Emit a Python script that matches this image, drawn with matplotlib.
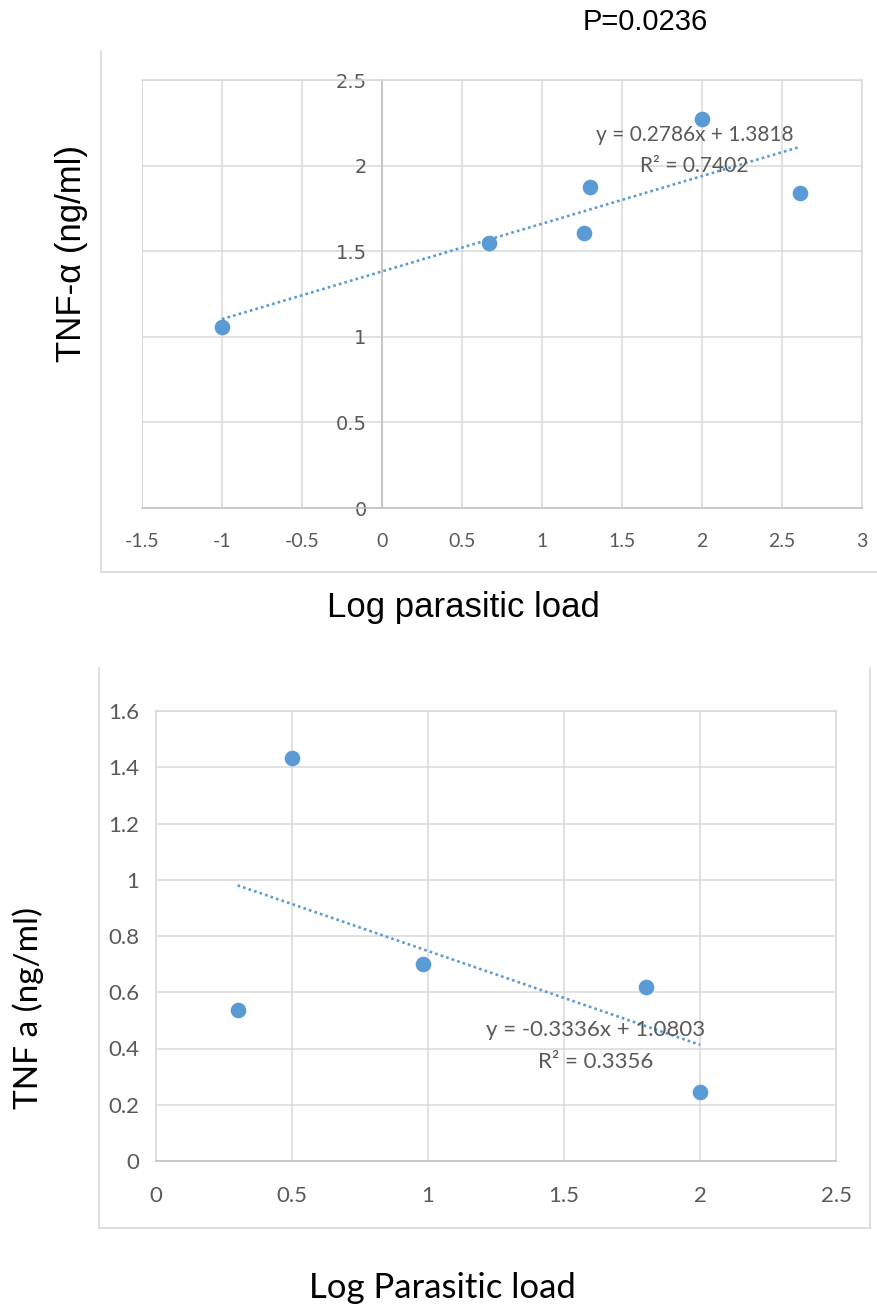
import numpy as np
import matplotlib.pyplot as plt
from matplotlib.lines import Line2D

# Datos - panel superior
x_top = np.array([-1.0, 0.67, 1.26, 1.30, 2.0, 2.61])
y_top = np.array([1.057, 1.55, 1.606, 1.875, 2.27, 1.84])
slope_top, inter_top, r2_top = 0.2786, 1.3818, 0.7402

# Datos - panel inferior
x_bot = np.array([0.30, 0.50, 0.98, 1.80, 2.0])
y_bot = np.array([0.537, 1.433, 0.70, 0.62, 0.246])
slope_bot, inter_bot, r2_bot = -0.3336, 1.0803, 0.3356

W, H = 877, 1308
blue = '#5B9BD5'
grid_c = '#D9D9D9'
tick_c = '#595959'
narrow = ['Liberation Sans Narrow', 'Lato', 'DejaVu Sans']
arial = ['Liberation Sans', 'DejaVu Sans']
calibri = ['Lato', 'DejaVu Sans']

fig = plt.figure(figsize=(W / 100, H / 100), dpi=100)


def fx(px):
    return px / W


def fy(py):
    return 1 - py / H


def frame(x0, x1, y0, y1, right=True):
    kw = dict(transform=fig.transFigure, color=grid_c, lw=1.2)
    fig.add_artist(Line2D([fx(x0), fx(x0)], [fy(y0), fy(y1)], **kw))
    fig.add_artist(Line2D([fx(x0), fx(x1)], [fy(y1), fy(y1)], **kw))
    if right:
        fig.add_artist(Line2D([fx(x1), fx(x1)], [fy(y0), fy(y1)], **kw))


def style_axes(ax, xlim, ylim, xstep, ystep, xpad, ypad, fs):
    ax.set_xlim(*xlim)
    ax.set_ylim(*ylim)
    ax.set_xticks(np.arange(xlim[0], xlim[1] + 1e-9, xstep))
    ax.set_yticks(np.arange(ylim[0], ylim[1] + 1e-9, ystep))
    ax.grid(True, color=grid_c, lw=1.1)
    ax.set_axisbelow(True)
    for s in ax.spines.values():
        s.set_color(grid_c)
        s.set_linewidth(1.1)
    ax.spines['bottom'].set_color('#BFBFBF')
    ax.tick_params(axis='x', length=0, pad=xpad, labelcolor=tick_c, labelsize=fs)
    ax.tick_params(axis='y', length=0, pad=ypad, labelcolor=tick_c, labelsize=fs)
    for lab in ax.get_xticklabels() + ax.get_yticklabels():
        lab.set_family(narrow)


def fmt(v):
    return ('%g' % round(v, 2))


# Panel superior
ax1 = fig.add_axes([fx(142), fy(508), fx(862) - fx(142), fy(80) - fy(508)])
style_axes(ax1, (-1.5, 3), (0, 2.5), 0.5, 0.5, 18, 11, 14)
ax1.spines['left'].set_position(('data', 0))
ax1.spines['left'].set_color('#BFBFBF')
ax1.axvline(-1.5, color=grid_c, lw=1.1, zorder=0)
ax1.set_xticklabels([fmt(v) for v in ax1.get_xticks()])
ax1.set_yticklabels([fmt(v) for v in ax1.get_yticks()])
ax1.scatter(x_top, y_top, s=105, color=blue, zorder=3)
xt = np.array([x_top.min(), x_top.max()])
ax1.plot(xt, slope_top * xt + inter_top, color=blue, lw=1.9,
         linestyle=(0, (1, 1.2)), zorder=2)

frame(101, 880, 51, 572, right=False)
fig.text(fx(645), fy(22), 'P=0.0236', family=arial, fontsize=21,
         ha='center', va='center')
fig.text(fx(72), fy(254), 'TNF-α (ng/ml)', family=arial, fontsize=25,
         rotation=90, ha='center', va='center')
fig.text(fx(463), fy(607), 'Log parasitic load', family=arial, fontsize=25,
         ha='center', va='center')
fig.text(fx(695), fy(135), 'y = %.4fx + %.4f' % (slope_top, inter_top),
         family=narrow, fontsize=15, color=tick_c, ha='center', va='center')
fig.text(fx(694), fy(166), 'R² = %.4f' % r2_top,
         family=narrow, fontsize=15, color=tick_c, ha='center', va='center')

# Panel inferior
ax2 = fig.add_axes([fx(156), fy(1161), fx(836) - fx(156), fy(711) - fy(1161)])
style_axes(ax2, (0, 2.5), (0, 1.6), 0.5, 0.2, 18, 12, 16)
ax2.set_xticklabels([fmt(v) for v in ax2.get_xticks()])
ax2.set_yticklabels([fmt(v) for v in ax2.get_yticks()])
ax2.scatter(x_bot, y_bot, s=105, color=blue, zorder=3)
xb = np.array([x_bot.min(), x_bot.max()])
ax2.plot(xb, slope_bot * xb + inter_bot, color=blue, lw=1.9,
         linestyle=(0, (1, 1.2)), zorder=2)

frame(99, 870, 668, 1228)
fig.text(fx(28), fy(1008), 'TNF a (ng/ml)', family=calibri, fontsize=24,
         rotation=90, ha='center', va='center')
fig.text(fx(442), fy(1288), 'Log Parasitic load', family=calibri, fontsize=25,
         ha='center', va='center')
fig.text(fx(596), fy(1030), 'y = %.4fx + %.4f' % (slope_bot, inter_bot),
         family=narrow, fontsize=16, color=tick_c, ha='center', va='center')
fig.text(fx(596), fy(1062), 'R² = %.4f' % r2_bot,
         family=narrow, fontsize=16, color=tick_c, ha='center', va='center')

fig.savefig('out.png', dpi=100)
